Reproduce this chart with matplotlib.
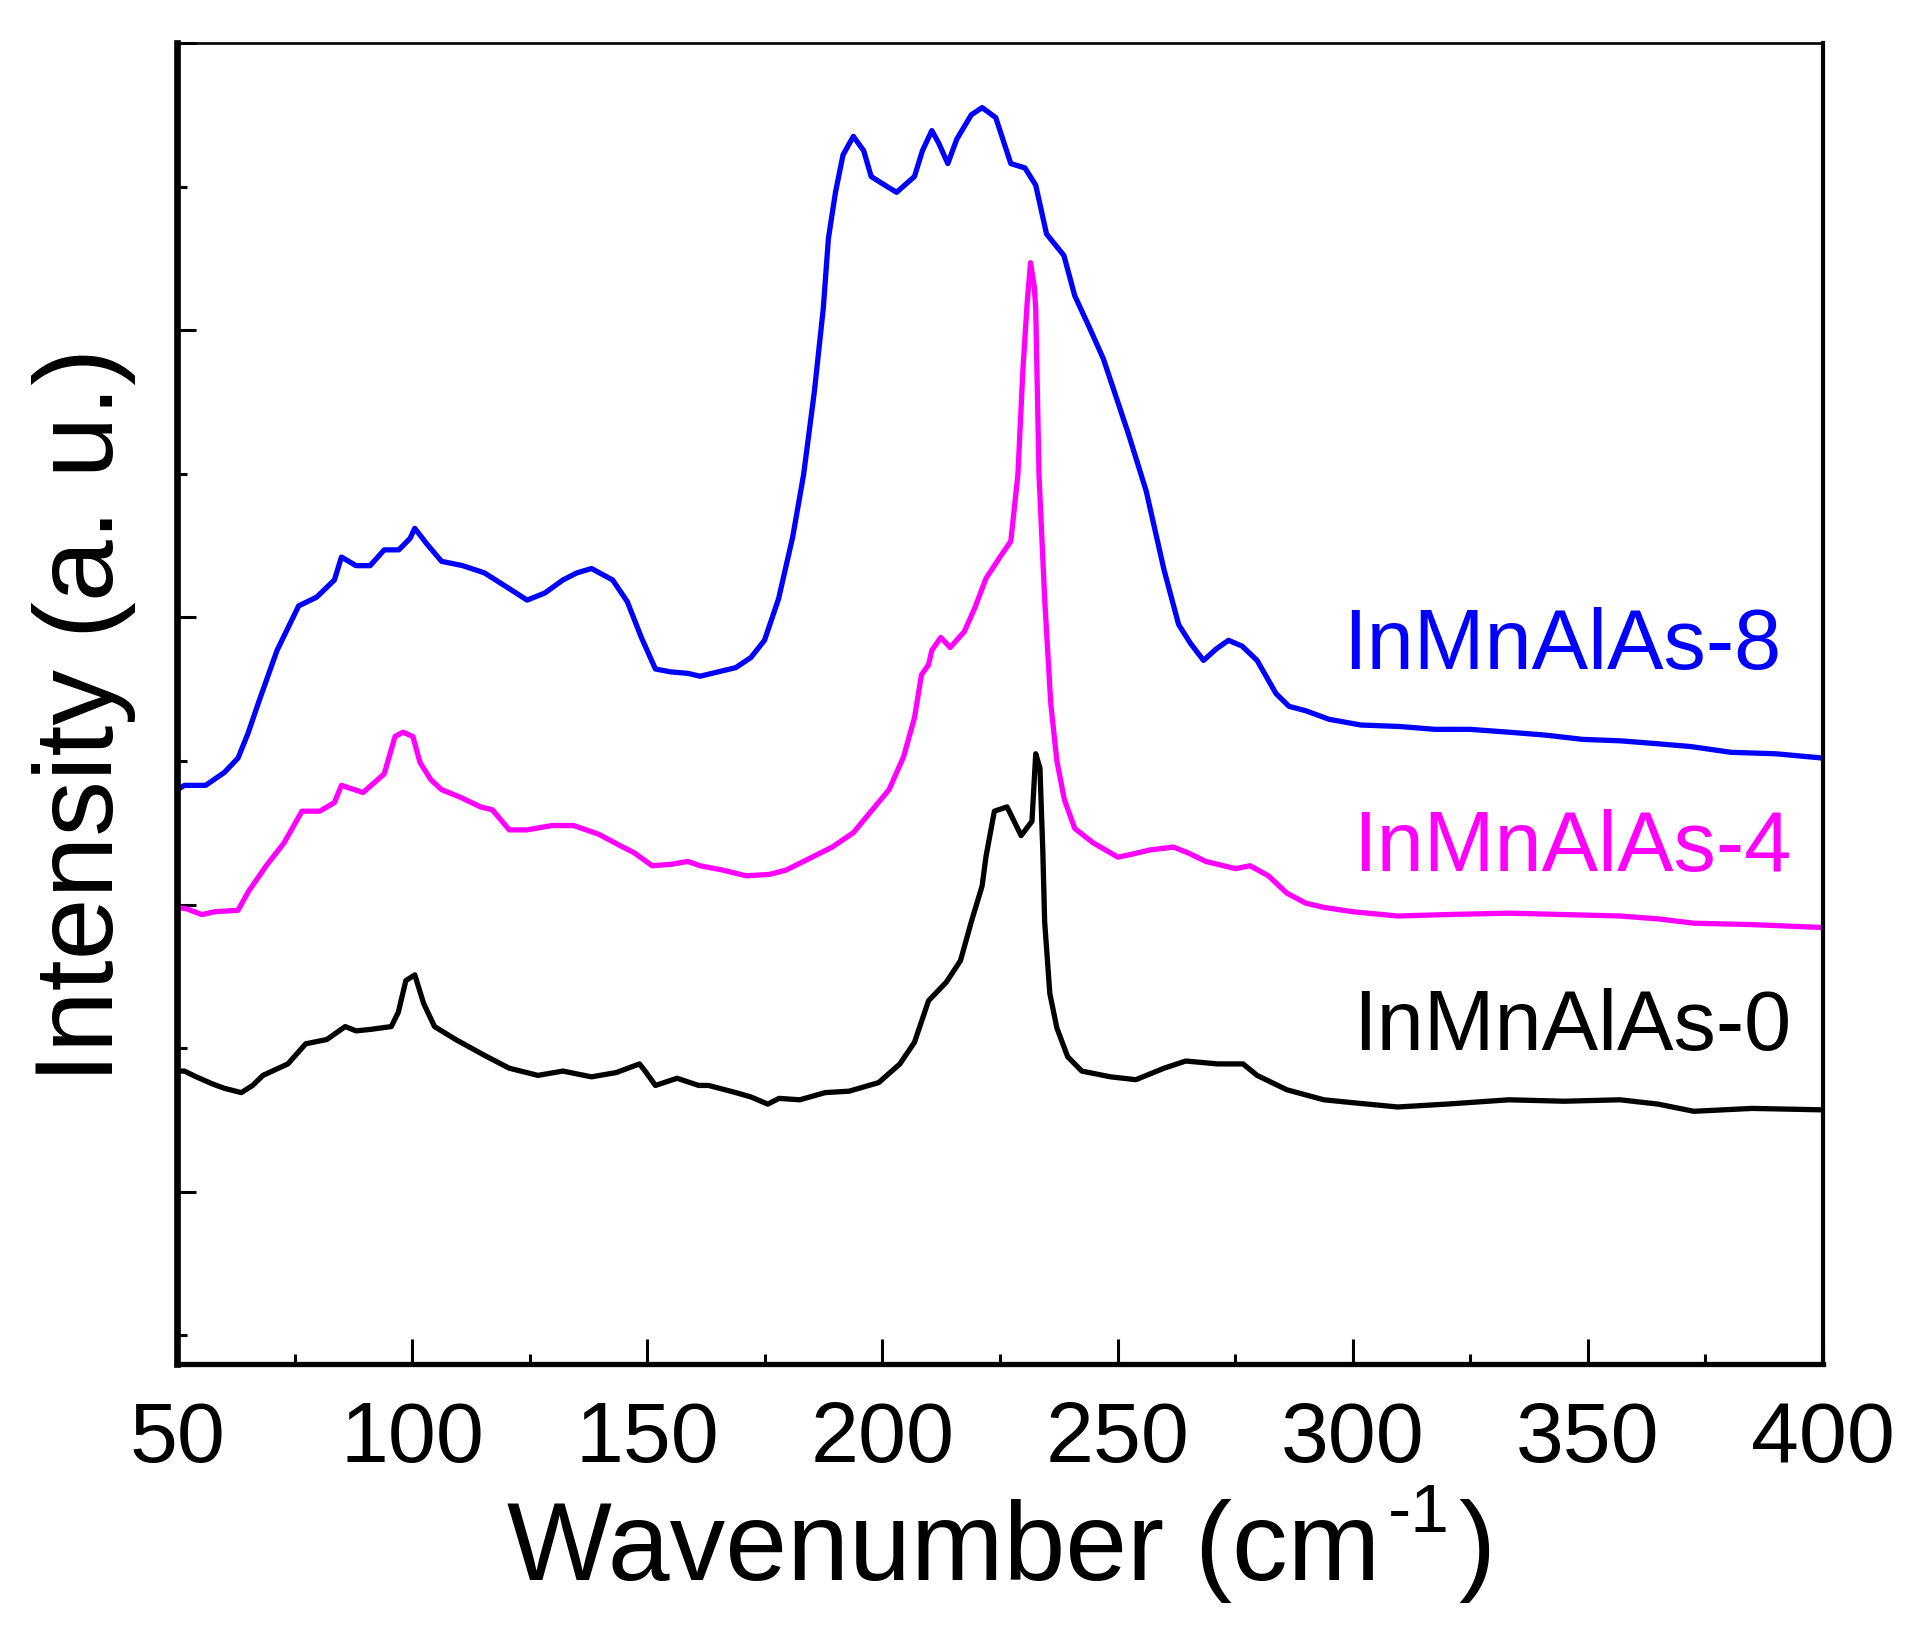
import matplotlib
matplotlib.use("Agg")
import matplotlib.pyplot as plt
from matplotlib.ticker import MultipleLocator, NullFormatter

plt.rcParams['font.family'] = ['Liberation Sans', 'DejaVu Sans']

# ---------------- data ----------------
x8 = [50, 51.5, 56, 60, 62.9, 65, 67.4, 71.2, 75.8, 79.6, 83.4, 84.9, 88, 91.0, 94.0,
      97.1, 99.5, 100.5, 103.1, 106.2, 110.7, 115.3, 120.6, 124.4, 128.2, 132.0, 135,
      138.1, 142.6, 145.7, 148.7, 151.7, 155, 158.6, 161.2, 165, 168.8, 172, 174.9,
      177.9, 180.9, 183.2, 185.5, 187.4, 188.5, 190.0, 191.6, 193.8, 196, 197.6, 200,
      203.0, 206.8, 208.5, 210.5, 212, 213.9, 215.8, 218.9, 221.2, 224.1, 227.3, 230.3,
      232.6, 234.9, 238.6, 240.9, 244, 247.0, 252.3, 256.1, 259.9, 263.0, 265.5, 268.3,
      271, 273.6, 276.5, 279.7, 283.7, 286.5, 290.0, 295, 301.8, 310, 317.5, 325, 333.3,
      341, 349.0, 357, 364.8, 372, 380.5, 390, 400]
y8 = [4.80, 4.83, 4.83, 4.92, 5.02, 5.19, 5.42, 5.77, 6.08, 6.14, 6.26, 6.42, 6.36, 6.36, 6.47,
      6.47, 6.55, 6.62, 6.51, 6.39, 6.36, 6.31, 6.20, 6.12, 6.17, 6.26, 6.31,
      6.34, 6.26, 6.11, 5.86, 5.64, 5.62, 5.61, 5.59, 5.62, 5.65, 5.72, 5.84,
      6.13, 6.56, 6.99, 7.57, 8.15, 8.64, 8.96, 9.22, 9.35, 9.25, 9.07, 9.02,
      8.96, 9.07, 9.25, 9.39, 9.30, 9.16, 9.33, 9.50, 9.55, 9.48, 9.16, 9.13,
      9.01, 8.67, 8.52, 8.24, 8.02, 7.80, 7.28, 6.88, 6.33, 5.95, 5.82, 5.70,
      5.78, 5.84, 5.80, 5.70, 5.47, 5.38, 5.35, 5.29, 5.25, 5.24, 5.22, 5.22, 5.20,
      5.18, 5.15, 5.14, 5.12, 5.10, 5.06, 5.05, 5.02]

x4 = [50, 52, 55.2, 58, 62.9, 65.1, 68.9, 72.7, 76.5, 80.3, 83.4, 84.9, 89.5, 94.0, 96.3,
      98, 100.1, 101.6, 103.9, 106.2, 110.0, 114.5, 117, 120.6, 124.4, 129.7, 134.3,
      139.6, 144.2, 147.2, 151.0, 155, 158.6, 161.2, 166, 171.0, 176.0, 179.5, 183.2,
      189.3, 193.8, 197.6, 201.4, 204.5, 206.8, 208.3, 209.8, 210.5, 212.4, 214.4,
      217.4, 219.7, 222.0, 225.0, 227.3, 228.8, 229.9, 230.8, 231.5, 232.3, 232.6,
      233.3, 234.5, 235.8, 237.1, 238.7, 240.9, 244.8, 250.1, 253, 256.9, 261.9, 265,
      268.8, 275.1, 278.2, 282.1, 286.0, 290, 293.9, 300, 309.6, 320, 333.3, 345,
      356.9, 365, 372.6, 385, 400]
y4 = [3.98, 3.97, 3.93, 3.95, 3.96, 4.09, 4.27, 4.43, 4.65, 4.65, 4.71, 4.83, 4.78, 4.91, 5.17,
      5.20, 5.17, 4.99, 4.87, 4.80, 4.75, 4.68, 4.66, 4.52, 4.52, 4.55, 4.55,
      4.49, 4.41, 4.36, 4.27, 4.28, 4.30, 4.27, 4.24, 4.20, 4.21, 4.24, 4.30,
      4.40, 4.50, 4.65, 4.80, 5.03, 5.30, 5.60, 5.67, 5.77, 5.86, 5.79,
      5.90, 6.07, 6.27, 6.42, 6.53, 6.99, 7.74, 8.20, 8.47, 8.30, 8.15,
      6.99, 6.13, 5.40, 5.00, 4.73, 4.53, 4.43, 4.33, 4.35, 4.38, 4.40, 4.36,
      4.30, 4.25, 4.27, 4.20, 4.08, 4.01, 3.98, 3.95, 3.92, 3.93, 3.94, 3.93,
      3.92, 3.90, 3.87, 3.86, 3.84]

x0 = [50, 51.5, 54, 57.5, 60, 63.6, 66, 68.2, 73.5, 77.3, 81.8, 85.7, 88, 91.0, 95.5, 97,
      98.6, 100.5, 102.4, 104.7, 109.2, 115.3, 120.6, 126.7, 132.0, 138.1, 143.4, 148.3,
      149.5, 151.7, 156.3, 160.9, 163, 168.8, 172, 175.6, 178, 182.4, 187.8, 192.9,
      199.2, 203.7, 206.8, 209.8, 213.6, 216.6, 218.9, 221.2, 222.0, 223.8, 226.5,
      229.5, 231.8, 232.6, 233.5, 234.1, 234.5, 235.6, 237.1, 239.4, 242.4, 248.5,
      253.9, 259.9, 264.5, 271.3, 276.7, 279.7, 286.0, 293.9, 300, 309.6, 320, 333.3,
      345, 356.9, 365, 372.6, 385, 400]
y0 = [2.84, 2.84, 2.80, 2.75, 2.72, 2.69, 2.74, 2.81, 2.89, 3.03, 3.06, 3.15, 3.12, 3.13, 3.15, 3.25,
      3.47, 3.51, 3.31, 3.15, 3.06, 2.95, 2.86, 2.81, 2.84, 2.80, 2.83, 2.89,
      2.84, 2.74, 2.79, 2.74, 2.74, 2.69, 2.66, 2.61, 2.65, 2.64, 2.69, 2.70,
      2.76, 2.89, 3.04, 3.33, 3.46, 3.61, 3.88, 4.13, 4.33, 4.65, 4.68,
      4.48, 4.58, 5.05, 4.95, 4.38, 3.88, 3.38, 3.14, 2.94, 2.84, 2.80,
      2.78, 2.86, 2.91, 2.89, 2.89, 2.81, 2.71, 2.64, 2.62, 2.59, 2.61, 2.64,
      2.63, 2.64, 2.61, 2.56, 2.58, 2.57]

labels = ['InMnAlAs-8', 'InMnAlAs-4', 'InMnAlAs-0']
colors = ['#0000FF', '#FF00FF', '#000000']
label_x = [391.1, 393.4, 393.4]
label_y = [5.64, 4.23, 2.99]
xticks = [50, 100, 150, 200, 250, 300, 350, 400]

# ---------------- figure ----------------
W, H = 1918, 1632
fig = plt.figure(figsize=(W / 100, H / 100), dpi=100)
fig.patch.set_facecolor('white')
ax = fig.add_axes([177.4 / W, 1 - 1364 / H, (1822.6 - 177.4) / W, (1364 - 43) / H])

for xs, ys, c in zip([x8, x4, x0], [y8, y4, y0], colors):
    ax.plot(xs, ys, color=c, lw=3.8, solid_joinstyle='round')

for lab, c, lx, ly in zip(labels, colors, label_x, label_y):
    ax.text(lx, ly, lab, color=c, fontsize=61, ha='right', va='baseline')

ax.set_xlim(50, 400)
ax.set_ylim(0.8, 10.0)
ax.set_xticks(xticks)
ax.set_xticklabels([str(t) for t in xticks])
ax.xaxis.set_minor_locator(MultipleLocator(25))
ax.yaxis.set_major_locator(MultipleLocator(2))
ax.yaxis.set_minor_locator(MultipleLocator(1))
ax.yaxis.set_major_formatter(NullFormatter())

ax.tick_params(axis='x', which='major', direction='in', length=18, width=2.2,
               labelsize=62, pad=26)
ax.tick_params(axis='x', which='minor', direction='in', length=7, width=2.2)
ax.tick_params(axis='y', which='major', direction='in', length=14, width=2.2, labelleft=False)
ax.tick_params(axis='y', which='minor', direction='in', length=7, width=2.2)

ax.spines['left'].set_linewidth(4.8)
ax.spines['bottom'].set_linewidth(3.8)
ax.spines['right'].set_linewidth(3.0)
ax.spines['top'].set_linewidth(1.9)

# y label
fig.text(83.9 / W, 1 - 715.5 / H, 'Intensity (a. u.)', rotation=90, fontsize=80,
         ha='center', va='center')

# x label composed with a superscript
renderer = fig.canvas.get_renderer()
base_y = 1 - 1580 / H
t1 = fig.text(0, base_y, 'Wavenumber (cm', fontsize=80, ha='left', va='baseline')
t2 = fig.text(0, base_y, '-1', fontsize=50, ha='left', va='baseline')
t3 = fig.text(0, base_y, ')', fontsize=80, ha='left', va='baseline')
w1 = t1.get_window_extent(renderer).width
w2 = t2.get_window_extent(renderer).width
w3 = t3.get_window_extent(renderer).width
gap = 8
total = w1 + gap + w2 + gap + w3
start = 1001 - total / 2
t1.set_x(start / W)
t2.set_x((start + w1 + gap) / W)
t2.set_y(base_y + 48 / H)
t3.set_x((start + w1 + gap + w2 + gap) / W)

fig.savefig('out.png', dpi=100, facecolor='white')
